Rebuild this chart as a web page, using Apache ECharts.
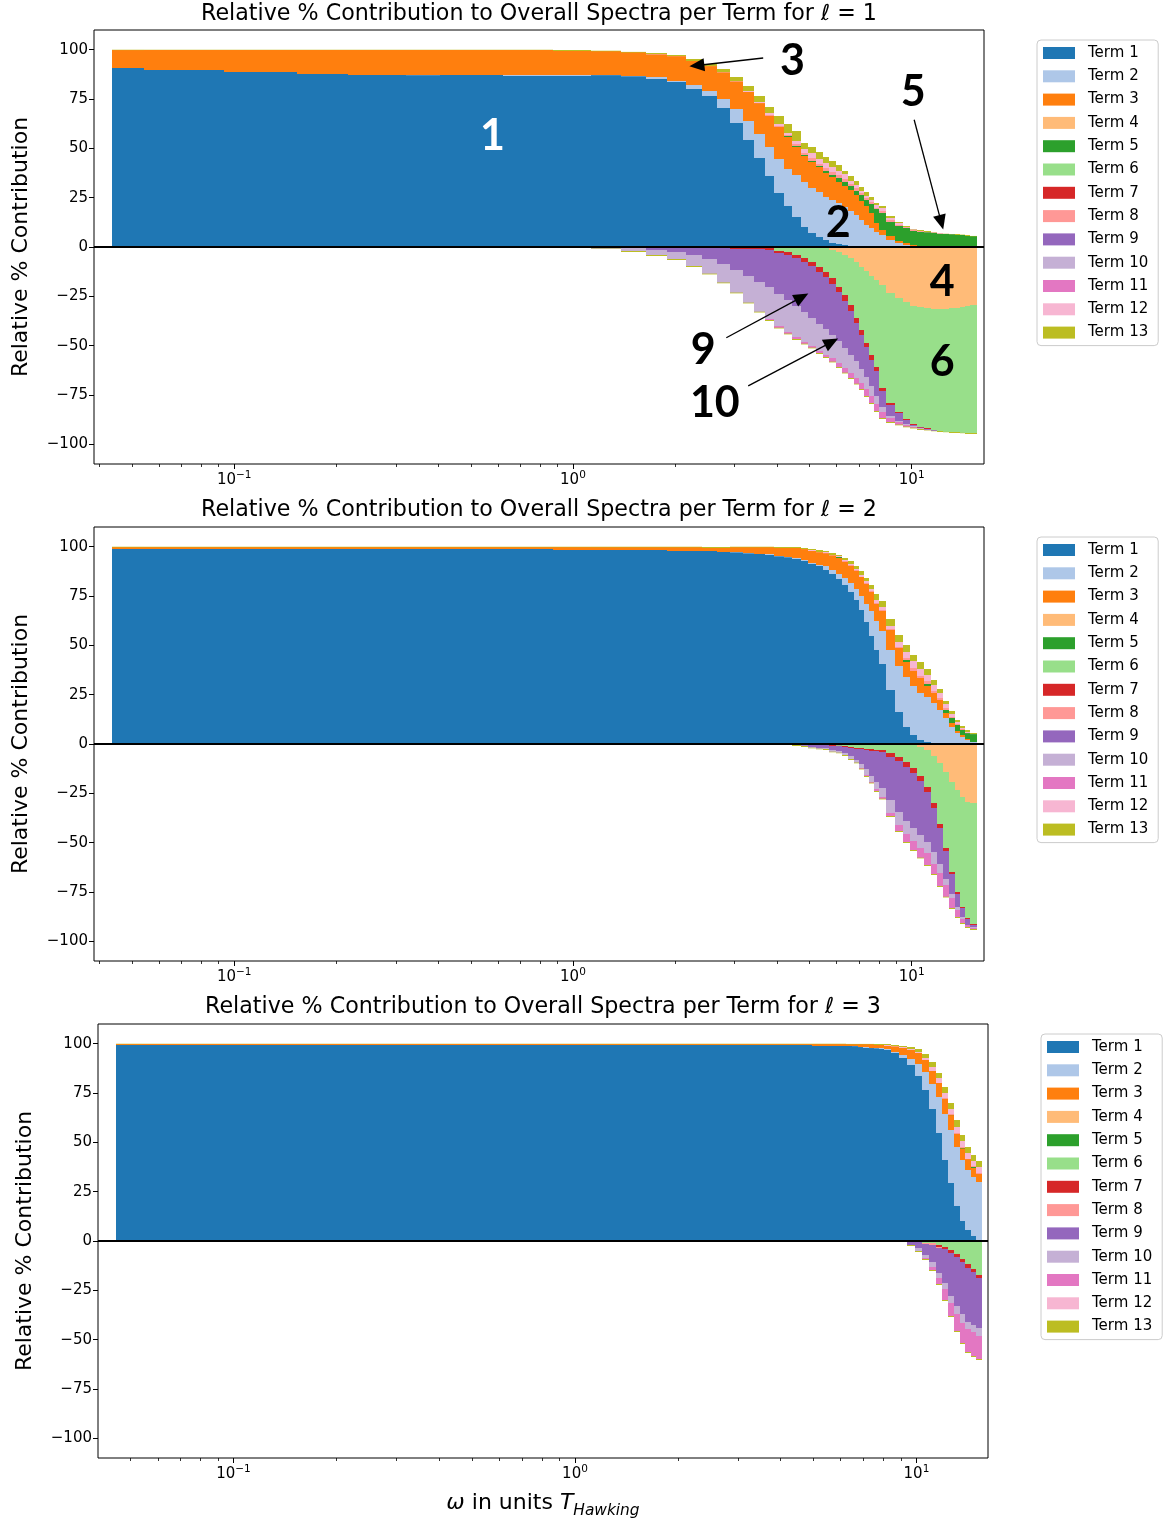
<!DOCTYPE html>
<html>
<head>
<meta charset="utf-8">
<script src="https://cdn.jsdelivr.net/npm/echarts@6/dist/echarts.min.js"></script>
<style>
html,body{margin:0;padding:0;background:#fff;}
#chart{width:1167px;height:1522px;}
</style>
</head>
<body>
<div id="chart"></div>
<script>
// ---------------- DATA ----------------
// bin edges in units of T_Hawking (l = 1 and l = 2 panels)
const binEdges = [0.0437, 0.054, 0.093, 0.153, 0.217, 0.322, 0.404, 0.62, 0.875, 1.13,
  1.385, 1.64, 1.895, 2.15, 2.405, 2.66, 2.915, 3.17, 3.425, 3.68, 3.935, 4.19, 4.445, 4.70,
  4.955, 5.21, 5.465, 5.72, 5.975, 6.23, 6.485, 6.74, 6.995, 7.25, 7.505, 7.76, 8.015, 8.4,
  8.9, 9.4, 9.9, 10.4, 10.9, 11.4, 11.9, 12.4, 12.9, 13.4, 13.9, 14.4, 14.9, 15.6];
// bin edges for the l = 3 panel
const binEdgesL3 = [0.0453, 0.054, 0.093, 0.153, 0.217, 0.322, 0.404, 0.62, 0.875, 1.13,
  1.385, 1.64, 1.895, 2.15, 2.405, 2.66, 2.915, 3.17, 3.425, 3.68, 3.935, 4.19, 4.445, 4.70,
  4.955, 5.21, 5.465, 5.72, 5.975, 6.23, 6.485, 6.74, 6.995, 7.25, 7.505, 7.76, 8.015, 8.4,
  8.9, 9.4, 9.9, 10.4, 10.9, 11.4, 11.9, 12.4, 12.9, 13.4, 13.9, 14.4, 14.9, 15.6];

const termNames = ['Term 1','Term 2','Term 3','Term 4','Term 5','Term 6','Term 7',
  'Term 8','Term 9','Term 10','Term 11','Term 12','Term 13'];

const panelTitles = [
  'Relative % Contribution to Overall Spectra per Term for \u2113 = 1',
  'Relative % Contribution to Overall Spectra per Term for \u2113 = 2',
  'Relative % Contribution to Overall Spectra per Term for \u2113 = 3'];

const xMajorTicks = [0.1, 1, 10];
const xMinorTicks = [0.04,0.05,0.06,0.07,0.08,0.09,0.2,0.3,0.4,0.5,0.6,0.7,0.8,0.9,2,3,4,5,6,7,8,9];
const yTicks = [-100,-75,-50,-25,0,25,50,75,100];

// ---- l = 1 ----
const l1_t1 = [90.7,89.7,88.5,87.8,87.3,87.1,87.0,86.9,86.9,87.0,86.5,85.4,83.8,80.2,76.3,70.6,63.1,54.3,45.3,36.0,27.6,21.0,15.0,10.3,7.2,5.0,3.4,2.1,1.3,0.8,0.5,0.3,0.2,0.15,0.1,0.05,0,0,0,0,0,0,0,0,0,0,0,0,0,0,0];
const l1_t2 = [0,0,0,0,0,0.3,0.1,0.1,0.1,0.1,0.3,0.6,0.6,2.0,2.9,4.5,7.0,9.7,12.1,14.8,17.1,18.6,21.3,22.4,22.6,23.0,22.1,21.9,21.0,19.5,17.8,15.7,13.3,11.05,9.7,7.45,6.0,3.4,2.0,1.1,0.6,0.4,0.3,0.2,0.2,0.1,0,0,0,0,0];
const l1_t3 = [9.1,10.1,11.3,12.0,12.5,12.4,12.7,12.8,12.6,12.1,11.8,11.6,12.2,12.2,12.5,13.4,13.8,14.7,15.5,15.7,16.0,16.4,14.6,13.5,13.5,12.3,11.9,11.7,10.9,10.8,10.6,10.4,9.9,9.6,7.6,4.5,2.6,2.4,1.2,0.8,0.2,0.1,0.1,0,0,0,0,0,0,0,0];
const l1_t4 = [0,0,0,0,0,0,0,0,0,0,0,0,0,0,0,0,0,0,0,0,0,0,0,0,0,0,-0.3,-1.5,-2.7,-4.1,-5.8,-7.8,-10.0,-12.2,-14.6,-16.8,-19.3,-23.5,-26.0,-28.1,-29.8,-30.6,-31.1,-31.5,-31.6,-31.5,-31.1,-30.8,-30.3,-29.8,-29.4];
const l1_t5 = [0,0,0,0,0,0,0,0,0,0,0,0,0,0,0,0,0,0,0,0,0,0.2,0.3,0.3,0.5,0.6,1.2,0.9,2.0,1.7,1.9,2.2,2.8,3.1,4.4,7.1,8.5,7.1,7.5,7.9,7.4,7.3,7.0,6.9,6.6,6.5,6.4,6.2,6.1,5.7,5.4];
const l1_t6 = [0,0,0,0,0,0,0,0,0,0,0,0,-0.1,-0.2,-0.2,-0.3,-0.4,-0.5,-0.5,-0.7,-2.0,-2.7,-4.1,-5.8,-7.4,-10.0,-12.2,-14.4,-17.4,-20.3,-23.6,-28.1,-32.1,-36.4,-40.2,-43.9,-52.1,-55.5,-57.6,-58.9,-59.7,-60.6,-60.9,-61.4,-61.8,-62.2,-62.8,-63.2,-63.9,-64.6,-65.0];
const l1_t7 = [0,0,0,0,0,0,0,0,0,0,0,0,0,0,-0.1,-0.2,-0.4,-0.5,-0.7,-0.9,-0.8,-1.2,-1.6,-2.0,-2.2,-2.5,-2.5,-2.8,-2.8,-2.8,-2.8,-2.5,-2.5,-2.3,-2.3,-2.0,-1.6,-0.9,-0.7,-0.6,-0.5,-0.3,-0.3,-0.1,-0.1,0,0,0,0,0,0];
const l1_t8 = [0,0,0,0,0,0,0,0,0,0,0,0,0,0,0,0,0,0,0.2,0.4,0.8,0.7,0.9,1.0,1.2,1.3,1.5,1.6,1.5,1.6,1.3,1.2,1.1,0.8,0.8,0.8,0.9,0.6,0.5,0.2,0.3,0.2,0.1,0,0,0,0,0,0,0,0];
const l1_t9 = [0,0,0,0,0,0,0,0,0,-0.2,-0.6,-1.3,-2.5,-3.8,-5.7,-8.0,-10.7,-13.5,-16.3,-18.9,-21.2,-23.1,-24.3,-25.2,-26.4,-26.3,-26.5,-25.8,-24.6,-23.8,-22.3,-19.6,-17.4,-15.1,-13.4,-12.8,-8.3,-5.7,-3.7,-2.0,-0.9,-0.5,-0.3,-0.1,0,0,0,0,0,0,0];
const l1_t10 = [0,0,0,0,0,0,0,0,-0.2,-0.6,-1.4,-2.7,-3.6,-5.6,-7.5,-9.5,-11.6,-13.7,-15.3,-16.1,-16.2,-16.0,-15.5,-15.0,-14.0,-13.7,-13.0,-12.0,-11.5,-10.5,-9.5,-8.5,-7.0,-6.0,-5.0,-4.0,-2.2,-1.0,-0.8,-0.6,-0.3,-0.2,-0.1,-0.1,0,0,0,0,0,0,0];
const l1_t11 = [0,0,0,0,0,0,0,0,0,0,0,0,0,0,0,0,0,0,0,-0.6,-0.7,-0.9,-1.0,-1.0,-1.0,-1.1,-1.3,-1.6,-1.9,-2.2,-2.6,-2.8,-3.2,-3.6,-3.5,-3.7,-3.1,-2.2,-1.2,-0.8,-0.4,-0.1,-0.1,0,0,0,0,0,0,0,0];
const l1_t12 = [0,0,0,0,0,0,0,0,0,0,0,0.3,0.1,0.1,0.2,0.2,0.3,0.5,0.6,0.9,1.0,1.0,1.8,2.4,2.5,2.5,2.7,2.5,2.0,2.6,1.6,1.4,1.3,1.3,1.3,1.4,1.8,1.4,0.8,0.3,0.4,0.3,0.3,0.3,0.2,0.1,0.1,0,0,0,0];
const l1_t13 = [0.2,0.2,0.2,0.2,0.2,0.2,0.2,0.2,0.2,0.3,0.3,0.35,0.8,1.0,0.8,1.35,2.0,2.4,2.9,3.2,3.7,4.2,4.7,3.0,3.0,3.4,2.9,3.0,2.9,1.7,2.5,2.4,1.7,1.7,1.4,0.9,0.8,0.8,0.7,0.2,0.2,0.2,0.3,0.2,0.1,0.1,0.1,0.2,0.2,0.2,0.2];
const l1_t13neg = [0,0,0,0,0,0,0,0,-0.1,-0.2,-0.4,-0.4,-0.4,-0.4,-0.4,-0.4,-0.4,-0.4,-0.4,-0.4,-0.4,-0.4,-0.4,-0.4,-0.4,-0.4,-0.4,-0.4,-0.4,-0.4,-0.4,-0.4,-0.4,-0.4,-0.4,-0.4,-0.4,-0.4,-0.4,-0.4,-0.4,-0.3,-0.2,-0.2,-0.2,-0.2,-0.2,-0.2,-0.2,-0.2,-0.2];

// ---- l = 2 ----
const l2_t1 = [99.1,99.0,98.9,98.8,98.8,98.7,98.7,98.6,98.5,98.4,98.3,98.2,98.0,97.8,97.6,97.4,97.1,96.6,96.3,95.9,95.1,94.6,93.7,92.6,91.4,90.0,88.3,86.3,83.8,80.7,76.8,72.8,67.7,61.6,54.8,47.7,40.6,27.4,16.2,8.8,4.6,2.0,1.2,0.7,0.4,0.3,0.2,0.1,0,0,0];
const l2_t2 = [0,0,0,0,0,0,0,0,0,0,0,0,0,0,0,0,0.3,0.3,0.2,0.3,0.3,0.4,0.5,0.6,0.6,0.9,1.7,1.7,2.5,3.4,4.8,5.7,7.4,9.5,12.4,14.4,16.8,20.3,23.4,25.4,25.0,23.7,22.8,19.9,16.9,12.7,8.6,5.6,3.8,2.0,1.0];
const l2_t3 = [0.6,0.7,0.8,0.9,0.9,1.0,1.0,1.1,1.2,1.3,1.4,1.5,1.7,1.9,2.0,2.2,2.3,2.8,3.2,3.5,4.2,4.6,5.3,5.6,5.9,6.3,6.6,7.6,7.9,8.3,8.6,9.2,9.6,9.9,10.0,9.0,9.8,10.2,9.0,7.6,7.6,7.6,5.6,5.1,5.0,2.9,2.0,1.0,0.6,0.3,0.2];
const l2_t4 = [0,0,0,0,0,0,0,0,0,0,0,0,0,0,0,0,0,0,0,0,0,0,0,0,0,0,0,0,0,0,0,0,0,0,0,0,0,0,0,0,0,-1.4,-3.0,-5.9,-9.5,-14.0,-19.1,-23.4,-26.7,-29.3,-30.1];
const l2_t5 = [0,0,0,0,0,0,0,0,0,0,0,0,0,0,0,0,0,0,0,0,0,0,0,0,0,0,0,0,0.4,0,0,0,0,0,0,0,0,0,0,0.8,0,0,0.7,0,0,1.4,2.6,2.7,2.9,3.2,3.8];
const l2_t6 = [0,0,0,0,0,0,0,0,0,0,0,0,0,0,0,0,0,0,0,0,0,0,0,-0.1,-0.2,-0.3,-0.5,-0.7,-0.9,-1.2,-1.5,-1.8,-2.0,-2.3,-2.5,-2.8,-3.0,-4.7,-6.8,-9.3,-12.0,-14.8,-19.0,-24.2,-31.1,-38.8,-45.7,-51.7,-56.0,-58.9,-61.3];
const l2_t7 = [0,0,0,0,0,0,0,0,0,0,0,0,0,0,0,0,0,0,0,0,0,0,0,0,0,-0.1,-0.1,-0.2,-0.3,-0.4,-0.5,-0.6,-0.7,-0.7,-0.8,-0.9,-1.2,-1.7,-1.8,-2.2,-2.6,-2.6,-2.5,-2.2,-1.9,-1.3,-1.0,-1.0,-0.5,-0.3,-0.1];
const l2_t8 = [0,0,0,0,0,0,0,0,0,0,0,0,0,0,0,0,0,0,0,0,0,0,0,0,0,0,0.2,0,0,0.3,0.3,0.3,0.2,0.4,0.5,0.6,0.6,0.6,0.8,1.2,1.5,1.3,1.4,1.3,1.2,0.9,0.5,0.5,0.3,0.2,0];
const l2_t9 = [0,0,0,0,0,0,0,0,0,0,0,0,0,0,0,0,0,0,0,0,0,-0.2,-0.5,-0.7,-1.2,-1.4,-1.6,-2.1,-2.4,-2.9,-4.0,-5.7,-7.6,-9.9,-12.8,-15.4,-18.3,-22.0,-26.1,-27.6,-27.9,-27.4,-25.1,-22.4,-18.4,-14.4,-10.3,-6.5,-4.3,-3.0,-1.2];
const l2_t10 = [0,0,0,0,0,0,0,0,0,0,0,0,0,0,0,0,0,0,0,0,0,0,-0.2,-0.3,-0.5,-0.6,-0.5,-0.9,-0.8,-1.1,-1.7,-1.3,-1.7,-2.8,-3.0,-3.9,-4.2,-6.8,-6.4,-6.6,-6.7,-6.3,-5.4,-6.3,-4.4,-3.1,-2.2,-1.7,-1.3,0,-0.5];
const l2_t11 = [0,0,0,0,0,0,0,0,0,0,0,0,0,0,0,0,0,0,0,0,0,0,0,0,0,0,0,0,0,0,0,0,-0.5,-0.5,-0.5,-0.8,-1.0,-1.3,-3.0,-4.0,-4.5,-5.1,-6.5,-5.1,-6.7,-5.8,-4.7,-3.3,-1.8,-1.3,-0.5];
const l2_t12 = [0,0,0,0,0,0,0,0,0,0,0,0,0,0,0,0,0,0,0,0,0,0,0,0.2,0.3,0.3,0.3,0.4,0.5,0.6,0.7,0.6,0.6,1.2,1.0,1.5,1.6,1.4,2.2,2.6,3.2,3.3,3.3,3.0,2.6,2.1,1.2,1.2,0.6,0.5,0.3];
const l2_t13 = [0.3,0.3,0.3,0.3,0.3,0.3,0.3,0.3,0.3,0.3,0.3,0.3,0.3,0.3,0.3,0.3,0.3,0.3,0.3,0.3,0.3,0.3,0.4,0.5,0.6,0.6,0.5,0.8,0.8,1.1,1.4,1.4,2.0,1.5,2.0,2.9,2.9,3.6,3.5,3.9,3.4,3.7,3.1,2.5,1.8,1.5,1.4,1.1,1.0,0.7,0.5];
const l2_t13neg = [0,0,0,0,0,0,0,0,0,0,0,0,0,0,0,0,0,0,0,0,0,-0.2,-0.3,-0.3,-0.3,-0.3,-0.3,-0.3,-0.3,-0.3,-0.4,-0.4,-0.4,-0.4,-0.4,-0.4,-0.4,-0.4,-0.4,-0.4,-0.4,-0.4,-0.4,-0.4,-0.4,-0.4,-0.4,-0.4,-0.4,-0.3,-0.4];

// ---- l = 3 ----
const l3_t1 = [99.6,99.6,99.6,99.6,99.6,99.6,99.6,99.6,99.5,99.5,99.5,99.5,99.5,99.5,99.4,99.4,99.4,99.4,99.3,99.3,99.3,99.2,99.2,99.2,99.1,99.1,99.0,99.0,99.0,98.9,98.6,98.3,98.0,97.8,97.6,97.3,97.0,95.3,92.7,89.3,83.4,76.3,66.8,54.7,41.1,29.3,17.8,10.2,5.6,2.5,0.5];
const l3_t2 = [0,0,0,0,0,0,0,0,0,0,0,0,0,0,0,0,0,0,0,0,0,0,0,0,0,0,0,0,0,0,0.1,0.2,0.2,0.2,0.2,0.3,0.3,0.6,1.5,3.0,6.5,9.5,13.0,18.5,23.5,27.0,30.0,31.0,30.5,30.0,29.5];
const l3_t3 = [0.2,0.2,0.2,0.2,0.2,0.2,0.2,0.2,0.3,0.3,0.3,0.3,0.3,0.3,0.4,0.4,0.4,0.4,0.5,0.5,0.5,0.6,0.6,0.6,0.7,0.7,0.8,0.8,0.8,0.8,1.0,1.2,1.5,1.7,1.8,1.9,1.8,2.7,3.6,4.5,5.2,5.7,6.4,6.7,7.5,7.5,6.6,5.7,5.4,4.7,4.2];
const l3_t4 = [0,0,0,0,0,0,0,0,0,0,0,0,0,0,0,0,0,0,0,0,0,0,0,0,0,0,0,0,0,0,0,0,0,0,0,0,0,0,0,0,0,0,0,0,0,0,0,0,0,0,0];
const l3_t5 = [0,0,0,0,0,0,0,0,0,0,0,0,0,0,0,0,0,0,0,0,0,0,0,0,0,0,0,0,0,0,0,0,0,0,0,0,0,0,0,0,0,0,0,0,0,0.3,0,0.4,0,0.3,0];
const l3_t6 = [0,0,0,0,0,0,0,0,0,0,0,0,0,0,0,0,0,0,0,0,0,0,0,0,0,0,0,0,0,0,0,0,0,0,0,0,0,0,0,0,-0.3,-0.8,-1.2,-2.0,-3.0,-4.7,-6.8,-9.1,-11.8,-14.2,-17.0];
const l3_t7 = [0,0,0,0,0,0,0,0,0,0,0,0,0,0,0,0,0,0,0,0,0,0,0,0,0,0,0,0,0,0,0,0,0,0,0,0,0,0,0,0,0,0,0,-0.8,-1.2,-1.2,-1.4,-1.5,-1.7,-1.7,-2.0];
const l3_t8 = [0,0,0,0,0,0,0,0,0,0,0,0,0,0,0,0,0,0,0,0,0,0,0,0,0,0,0,0,0,0,0,0,0,0,0,0,0,0,0,0,-0.4,-0.5,-0.8,-0.5,0.5,0.4,0.4,0.3,0.3,0.3,0.3];
const l3_t9 = [0,0,0,0,0,0,0,0,0,0,0,0,0,0,0,0,0,0,0,0,0,0,0,0,0,0,0,0,0,0,0,0,0,0,0,0,0,0,-0.1,-2.0,-3.0,-5.6,-8.8,-12.7,-17.3,-22.0,-24.5,-26.6,-27.4,-26.6,-25.0];
const l3_t10 = [0,0,0,0,0,0,0,0,0,0,0,0,0,0,0,0,0,0,0,0,0,0,0,0,0,0,0,0,0,0,0,0,0,0,0,0,0,0,0,0,-1.2,-1.5,-2.2,-2.6,-3.0,-3.4,-4.2,-4.2,-3.7,-3.7,-4.0];
const l3_t11 = [0,0,0,0,0,0,0,0,0,0,0,0,0,0,0,0,0,0,0,0,0,0,0,0,0,0,0,0,0,0,0,0,0,0,0,0,0,0,0,0,0,-0.7,-1.6,-3.2,-5.5,-6.9,-8.6,-10.4,-11.6,-12.0,-11.6];
const l3_t12 = [0,0,0,0,0,0,0,0,0,0,0,0,0,0,0,0,0,0,0,0,0,0,0,0,0,0,0,0,0,0,0,0,0,0,0,0,0.3,0.4,0.5,0.6,0.9,1.5,2.0,2.5,2.6,2.5,3.0,3.0,3.0,2.9,2.9];
const l3_t13 = [0.2,0.2,0.2,0.2,0.2,0.2,0.2,0.2,0.2,0.2,0.2,0.2,0.2,0.2,0.2,0.2,0.2,0.2,0.2,0.2,0.2,0.2,0.2,0.2,0.2,0.2,0.2,0.2,0.2,0.2,0.2,0.2,0.2,0.2,0.3,0.3,0.4,0.5,0.7,0.9,1.3,1.9,2.5,3.0,3.1,3.2,3.3,3.2,3.1,3.0,2.9];
const l3_t13neg = [0,0,0,0,0,0,0,0,0,0,0,0,0,0,0,0,0,0,0,0,0,0,0,0,0,0,0,0,0,0,0,0,0,0,0,0,0,0,-0.4,-0.5,-0.5,-0.5,-0.5,-0.5,-0.5,-0.5,-0.5,-0.5,-0.5,-0.5,-0.5];

// text annotations on the l = 1 panel: [label, omega, percent, colour]
const annotationLabels = [
  ['1', 0.579, 56.4, '#ffffff'], ['2', 6.07, 12.0, '#000000'], ['3', 4.45, 94.0, '#000000'],
  ['4', 12.3, -17.8, '#000000'], ['5', 10.1, 78.7, '#000000'], ['6', 12.3, -58.4, '#000000'],
  ['9', 2.423, -52.4, '#000000'], ['10', 2.624, -79.0, '#000000']];
// arrows on the l = 1 panel: [tailOmega, tailPct, headOmega, headPct]
const annotationArrows = [
  [3.645, 95.8, 2.322, 92.0], [10.17, 64.5, 12.23, 12.5],
  [2.836, -46.0, 4.736, -25.4], [3.292, -70.4, 5.80, -48.2]];

// ---------------- STYLE / LAYOUT ----------------
const termColors = ['#1f77b4','#aec7e8','#ff7f0e','#ffbb78','#2ca02c','#98df8a','#d62728',
  '#ff9896','#9467bd','#c5b0d5','#e377c2','#f7b6d2','#bcbd22'];
const FONT = 'DejaVu Sans';
const layouts = [
  {left: 94, top: 30, width: 890, height: 434, xMin: 0.03856, xMax: 16.35, titleTop: 1, legendLeft: 1037, legendTop: 40},
  {left: 94, top: 527, width: 890, height: 434, xMin: 0.03856, xMax: 16.35, titleTop: 497, legendLeft: 1037, legendTop: 537},
  {left: 98, top: 1024, width: 890, height: 434, xMin: 0.0401, xMax: 16.2, titleTop: 994, legendLeft: 1041, legendTop: 1034}
];
const panelEdges = [binEdges, binEdges, binEdgesL3];

const panelTerms = [
  [l1_t1,l1_t2,l1_t3,l1_t4,l1_t5,l1_t6,l1_t7,l1_t8,l1_t9,l1_t10,l1_t11,l1_t12,l1_t13],
  [l2_t1,l2_t2,l2_t3,l2_t4,l2_t5,l2_t6,l2_t7,l2_t8,l2_t9,l2_t10,l2_t11,l2_t12,l2_t13],
  [l3_t1,l3_t2,l3_t3,l3_t4,l3_t5,l3_t6,l3_t7,l3_t8,l3_t9,l3_t10,l3_t11,l3_t12,l3_t13]];
const panelTerm13Neg = [l1_t13neg, l2_t13neg, l3_t13neg];

const NB = binEdges.length - 1;
panelTerms.forEach((terms, p) => {
  terms.forEach((a, t) => { if (a.length !== NB) throw new Error('panel ' + (p+1) + ' term ' + (t+1) + ' has ' + a.length); });
  if (panelTerm13Neg[p].length !== NB) throw new Error('neg13 panel ' + (p+1) + ' has ' + panelTerm13Neg[p].length);
});

// stack positives upward and negatives downward, in term order
function buildStacks(terms, neg13, edges) {
  const out = terms.map(() => []);
  for (let i = 0; i < NB; i++) {
    let pos = 0, neg = 0;
    terms.forEach((arr, t) => {
      const v = arr[i];
      if (v > 0) { out[t].push([edges[i], edges[i+1], pos, pos + v]); pos += v; }
      else if (v < 0) { out[t].push([edges[i], edges[i+1], neg + v, neg]); neg += v; }
    });
    const n = neg13[i];
    if (n < 0) { out[12].push([edges[i], edges[i+1], neg + n, neg]); neg += n; }
  }
  return out;
}

function renderBar(params, api) {
  const a = api.coord([api.value(0), api.value(3)]);
  const b = api.coord([api.value(1), api.value(2)]);
  const left = Math.round(a[0]), right = Math.round(b[0]);
  let top = a[1], bottom = b[1];
  const rt = Math.round(top), rb = Math.round(bottom);
  if (rb - rt >= 1) { top = rt; bottom = rb; }
  return {type: 'rect', shape: {x: left, y: top, width: right - left, height: bottom - top},
          style: {fill: api.visual('color')}};
}

const fmtY = v => (v < 0 ? '\u2212' + (-v) : String(v));
const fmtX = v => { const e = Math.round(Math.log10(v)); return '{b|10}{s|' + (e < 0 ? '\u2212' + (-e) : String(e)) + '}'; };

const grids = [], xAxes = [], yAxes = [], titles = [], legends = [], series = [];
layouts.forEach((L, p) => {
  grids.push({left: L.left, top: L.top, width: L.width, height: L.height, show: true,
    borderColor: '#000', borderWidth: 1, backgroundColor: 'transparent', containLabel: false, outerBoundsMode: 'none'});
  const major = {type: 'log', logBase: 10, gridIndex: p, min: L.xMin, max: L.xMax, position: 'bottom',
    axisLine: {show: false, onZero: false}, splitLine: {show: false}, minorTick: {show: false},
    axisTick: {show: true, customValues: xMajorTicks, length: 5, lineStyle: {color: '#000', width: 1}},
    axisLabel: {show: true, customValues: xMajorTicks, formatter: fmtX, margin: 6, color: '#000',
      rich: {b: {fontFamily: FONT, fontSize: 15, color: '#000', lineHeight: 18, verticalAlign: 'bottom'},
             s: {fontFamily: FONT, fontSize: 10.5, color: '#000', lineHeight: 18, verticalAlign: 'top'}}}};
  if (p === 2) {
    Object.assign(major, {
      name: '{i|\u03c9}{n| in units }{i|T}{sub|Hawking}', nameLocation: 'middle', nameGap: 34, nameMoveOverlap: false,
      nameTextStyle: {fontFamily: FONT, fontSize: 22, color: '#000',
        rich: {i: {fontFamily: FONT, fontStyle: 'italic', fontSize: 22, color: '#000', lineHeight: 26, verticalAlign: 'top'},
               n: {fontFamily: FONT, fontSize: 22, color: '#000', lineHeight: 26, verticalAlign: 'top'},
               sub: {fontFamily: FONT, fontStyle: 'italic', fontSize: 15.4, color: '#000', lineHeight: 26, verticalAlign: 'bottom'}}}
    });
  }
  xAxes.push(major);
  xAxes.push({type: 'log', logBase: 10, gridIndex: p, min: L.xMin, max: L.xMax, position: 'bottom',
    axisLine: {show: false, onZero: false}, splitLine: {show: false}, axisLabel: {show: false}, minorTick: {show: false},
    axisTick: {show: true, customValues: xMinorTicks, length: 3, lineStyle: {color: '#000', width: 0.8}}});
  yAxes.push({type: 'value', gridIndex: p, min: -110, max: 110,
    axisLine: {show: false, onZero: false}, splitLine: {show: false},
    axisTick: {show: true, customValues: yTicks, length: 5, lineStyle: {color: '#000', width: 1}},
    axisLabel: {customValues: yTicks, formatter: fmtY, color: '#000', fontFamily: FONT, fontSize: 15, margin: 6},
    name: 'Relative % Contribution', nameLocation: 'middle', nameRotate: 90, nameGap: 62, nameMoveOverlap: false,
    nameTextStyle: {fontFamily: FONT, fontSize: 22, color: '#000'}});
  titles.push({text: panelTitles[p], left: L.left + L.width / 2, top: L.titleTop, textAlign: 'center', padding: 0,
    textStyle: {fontFamily: FONT, fontSize: 22.2, fontWeight: 'normal', color: '#000', lineHeight: 26}});
  legends.push({data: termNames, orient: 'vertical', left: L.legendLeft, top: L.legendTop, icon: 'rect',
    itemWidth: 32, itemHeight: 12, itemGap: 7.3, padding: [5, 10, 5, 6], selectedMode: false,
    borderColor: '#cccccc', borderWidth: 1, borderRadius: 4, backgroundColor: '#ffffff',
    textStyle: {fontFamily: FONT, fontSize: 15, color: '#000', lineHeight: 16, padding: [0, 0, 0, 8]}});

  const L_ = L;
  const stacks = buildStacks(panelTerms[p], panelTerm13Neg[p], panelEdges[p]);
  stacks.forEach((rects, t) => {
    const s = {type: 'custom', name: termNames[t], xAxisIndex: 2 * p, yAxisIndex: p, data: rects,
      renderItem: renderBar, encode: {x: [0, 1], y: [2, 3]}, itemStyle: {color: termColors[t]},
      clip: true, silent: true, animation: false, z: 2};
    if (t === 12) {
      const lines = [[{coord: [L_.xMin, 0]}, {coord: [L_.xMax, 0]}]];
      if (p === 0) {
        annotationArrows.forEach(a => {
          lines.push([{coord: [a[0], a[1]], symbol: 'none', lineStyle: {color: '#000', width: 1.3, type: 'solid'}},
                      {coord: [a[2], a[3]], symbol: 'triangle', symbolSize: [13, 15]}]);
        });
        s.markPoint = {silent: true, animation: false, symbol: 'rect', symbolSize: 1,
          itemStyle: {color: 'rgba(0,0,0,0)'},
          data: annotationLabels.map(a => ({coord: [a[1], a[2]], value: a[0],
            label: {show: true, position: 'inside', formatter: a[0], fontFamily: 'Lato', fontWeight: 'bold', fontSize: 43, color: a[3]}}))};
      }
      s.markLine = {silent: true, animation: false, symbol: ['none', 'none'], label: {show: false},
        emphasis: {disabled: true}, lineStyle: {color: '#000', width: 2, type: 'solid'},
        itemStyle: {color: '#000'}, data: lines};
    }
    series.push(s);
  });
});

const chart = echarts.init(document.getElementById('chart'), null, {renderer: 'canvas'});
chart.setOption({
  animation: false, backgroundColor: '#ffffff',
  textStyle: {fontFamily: FONT},
  title: titles, grid: grids, xAxis: xAxes, yAxis: yAxes, legend: legends, series: series
});
</script>
</body>
</html>
